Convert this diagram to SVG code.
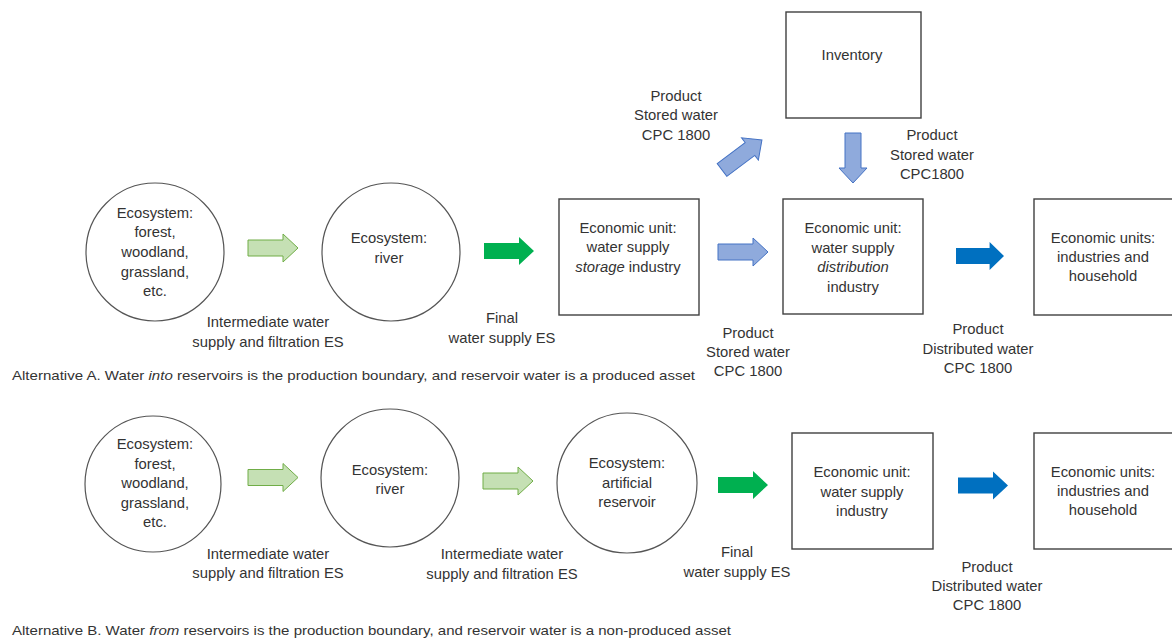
<svg xmlns="http://www.w3.org/2000/svg" xmlns:xlink="http://www.w3.org/1999/xlink" width="1172" height="639" viewBox="0 0 1172 639">
  <style>
    text { font-family: "Liberation Sans", Arial, sans-serif; font-size: 14.8px; fill: #333333; text-anchor: middle; }
    .cap { font-size: 13.5px; text-anchor: start; }
    .eco { fill: #ffffff; stroke: #555555; stroke-width: 1.2; }
    .unit { fill: #ffffff; stroke: #404040; stroke-width: 1.4; }
    .lg { fill: #c5e0b4; stroke: #70ad47; stroke-width: 1; }
    .gr { fill: #00b050; }
    .lb { fill: #8faadc; stroke: #4472c4; stroke-width: 1; }
    .db { fill: #0070c0; }
  </style>
  <defs>
    <!-- block arrow, tail at origin, pointing to +x -->
    <path id="blk" d="M0,-8 H35 V-14 L50,0 L35,14 V8 H0 Z"/>
  </defs>
  <rect width="1172" height="639" fill="#ffffff"/>

  <!-- ===== Alternative A ===== -->
  <g id="a-eco-forest">
    <circle class="eco" cx="155" cy="252" r="69"/>
    <text x="155" y="218">Ecosystem:</text>
    <text x="155" y="237">forest,</text>
    <text x="155" y="257">woodland,</text>
    <text x="155" y="277">grassland,</text>
    <text x="155" y="296">etc.</text>
  </g>
  <g id="a-eco-river">
    <circle class="eco" cx="391" cy="252" r="69"/>
    <text x="389" y="243">Ecosystem:</text>
    <text x="389" y="263">river</text>
  </g>
  <g id="a-storage">
    <rect class="unit" x="559" y="199" width="140" height="116"/>
    <text x="628" y="233">Economic unit:</text>
    <text x="628" y="252">water supply</text>
    <text x="628" y="272"><tspan font-style="italic">storage</tspan> industry</text>
  </g>
  <g id="a-inventory">
    <rect class="unit" x="786" y="12" width="135" height="106"/>
    <text x="852" y="60">Inventory</text>
  </g>
  <g id="a-distribution">
    <rect class="unit" x="783" y="199" width="140" height="115"/>
    <text x="853" y="233">Economic unit:</text>
    <text x="853" y="253">water supply</text>
    <text x="853" y="272" font-style="italic">distribution</text>
    <text x="853" y="292">industry</text>
  </g>
  <g id="a-users">
    <rect class="unit" x="1034" y="199" width="145" height="116"/>
    <text x="1103" y="243">Economic units:</text>
    <text x="1103" y="262">industries and</text>
    <text x="1103" y="281">household</text>
  </g>

  <!-- ===== Alternative B ===== -->
  <g id="b-eco-forest">
    <circle class="eco" cx="153" cy="484" r="68"/>
    <text x="155" y="449">Ecosystem:</text>
    <text x="155" y="469">forest,</text>
    <text x="155" y="488">woodland,</text>
    <text x="155" y="508">grassland,</text>
    <text x="155" y="527">etc.</text>
  </g>
  <g id="b-eco-river">
    <circle class="eco" cx="390" cy="478" r="69"/>
    <text x="390" y="475">Ecosystem:</text>
    <text x="390" y="494">river</text>
  </g>
  <g id="b-eco-reservoir">
    <circle class="eco" cx="627" cy="483" r="70"/>
    <text x="627" y="468">Ecosystem:</text>
    <text x="627" y="488">artificial</text>
    <text x="627" y="507">reservoir</text>
  </g>
  <g id="b-supply">
    <rect class="unit" x="792" y="433" width="141" height="116"/>
    <text x="862" y="477">Economic unit:</text>
    <text x="862" y="497">water supply</text>
    <text x="862" y="516">industry</text>
  </g>
  <g id="b-users">
    <rect class="unit" x="1034" y="433" width="145" height="116"/>
    <text x="1103" y="477">Economic units:</text>
    <text x="1103" y="496">industries and</text>
    <text x="1103" y="515">household</text>
  </g>

  <!-- ===== Connectors (block arrows) and their labels ===== -->
  <g id="connectors">
    <!-- A -->
    <use xlink:href="#blk" class="lg" transform="translate(248,248)"/>
    <use xlink:href="#blk" class="gr" transform="translate(484,251)"/>
    <use xlink:href="#blk" class="lb" transform="translate(718,252)"/>
    <use xlink:href="#blk" class="db" transform="translate(956,256) scale(0.96,1)"/>
    <use xlink:href="#blk" class="lb" transform="translate(722,170) rotate(-37)"/>
    <use xlink:href="#blk" class="lb" transform="translate(853,133) rotate(90)"/>
    <!-- B -->
    <use xlink:href="#blk" class="lg" transform="translate(248,477.5)"/>
    <use xlink:href="#blk" class="lg" transform="translate(483,481)"/>
    <use xlink:href="#blk" class="gr" transform="translate(718,485)"/>
    <use xlink:href="#blk" class="db" transform="translate(958,485.5)"/>

    <!-- labels A -->
    <text x="268" y="327">Intermediate water</text>
    <text x="268" y="347">supply and filtration ES</text>
    <text x="502" y="323">Final</text>
    <text x="502" y="343">water supply ES</text>
    <text x="676" y="101">Product</text>
    <text x="676" y="120">Stored water</text>
    <text x="676" y="140">CPC 1800</text>
    <text x="932" y="140">Product</text>
    <text x="932" y="160">Stored water</text>
    <text x="932" y="179">CPC1800</text>
    <text x="748" y="338">Product</text>
    <text x="748" y="357">Stored water</text>
    <text x="748" y="376">CPC 1800</text>
    <text x="978" y="334">Product</text>
    <text x="978" y="354">Distributed water</text>
    <text x="978" y="373">CPC 1800</text>
    <!-- labels B -->
    <text x="268" y="559">Intermediate water</text>
    <text x="268" y="578">supply and filtration ES</text>
    <text x="502" y="559">Intermediate water</text>
    <text x="502" y="579">supply and filtration ES</text>
    <text x="737" y="557">Final</text>
    <text x="737" y="577">water supply ES</text>
    <text x="987" y="572">Product</text>
    <text x="987" y="591">Distributed water</text>
    <text x="987" y="610">CPC 1800</text>
  </g>

  <!-- captions -->
  <text class="cap" x="12" y="380" textLength="683" lengthAdjust="spacingAndGlyphs">Alternative A. Water <tspan font-style="italic">into</tspan> reservoirs is the production  boundary,  and reservoir water is a produced asset</text>
  <text class="cap" x="12" y="635" textLength="719" lengthAdjust="spacingAndGlyphs">Alternative B. Water <tspan font-style="italic">from</tspan> reservoirs is the production  boundary,  and reservoir water is a non-produced  asset</text>
</svg>
